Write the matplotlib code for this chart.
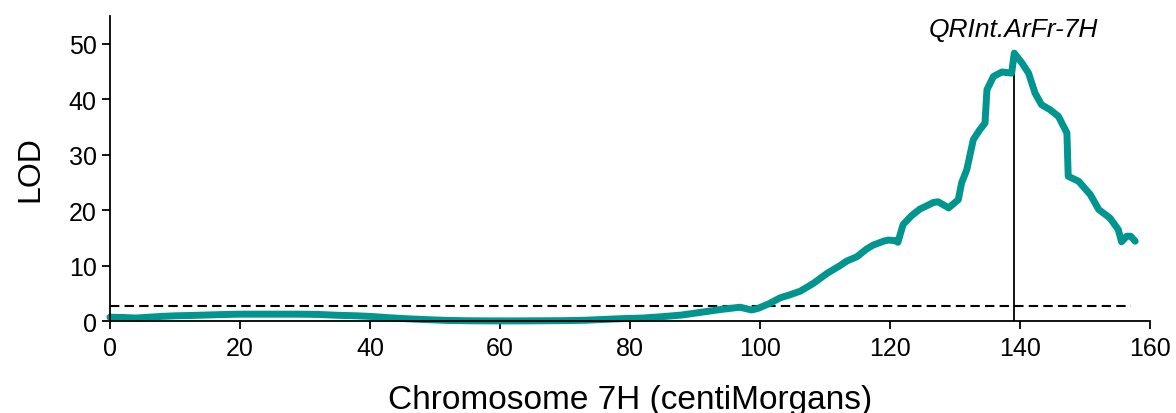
import matplotlib
matplotlib.use("Agg")
import matplotlib.pyplot as plt

plt.rcParams['font.family'] = ['Liberation Sans', 'DejaVu Sans']

# genetic position (cM) and LOD score
position = [0, 2, 4, 6, 8, 10, 12, 15, 18, 20,
            23, 26, 29, 32, 35, 38, 40, 43, 46, 49,
            52, 55, 58, 61, 64, 67, 70, 73, 76, 79,
            82, 85, 88, 91, 94, 96.9, 98.7, 99.7, 101.5, 103.1,
            104.5, 106.2, 108.2, 110.3, 112.3, 113.3, 114.9, 116.4, 117.4, 119.0,
            119.7, 120.8, 121.2, 122.0, 123.3, 124.6, 125.5, 126.7, 127.4, 129.0,
            130.5, 131.0, 131.8, 132.8, 133.8, 134.6, 134.9, 135.9, 137.2, 138.7,
            139.1, 140.3, 141.3, 142.3, 143.3, 144.6, 145.9, 147.2, 147.4, 149.0,
            150.8, 152.1, 153.8, 155.1, 155.6, 156.4, 157.0, 157.7]
lod = [0.7, 0.65, 0.55, 0.7, 0.85, 0.95, 1.0, 1.1, 1.2, 1.25,
       1.25, 1.25, 1.25, 1.2, 1.05, 0.95, 0.85, 0.6, 0.4, 0.25,
       0.12, 0.06, 0.04, 0.03, 0.04, 0.06, 0.08, 0.15, 0.3, 0.45,
       0.55, 0.8, 1.1, 1.6, 2.1, 2.5, 2.0, 2.3, 3.2, 4.2,
       4.7, 5.4, 6.8, 8.6, 10.0, 10.8, 11.6, 13.0, 13.7, 14.4,
       14.6, 14.5, 14.2, 17.4, 19.0, 20.2, 20.7, 21.4, 21.5, 20.4,
       21.9, 24.9, 27.3, 32.7, 34.5, 35.7, 41.7, 44.1, 44.9, 44.7,
       48.3, 46.5, 44.7, 41.1, 39.0, 38.1, 36.9, 33.9, 26.1, 25.2,
       22.8, 20.1, 18.6, 16.5, 14.3, 15.3, 15.3, 14.4]

threshold = 2.7
qtl_pos = 139
qtl_lod = 45
qtl_name = "QRInt.ArFr-7H"

fig = plt.figure(figsize=(11.76, 4.14), dpi=100)
ax = fig.add_axes([0.0935, 0.222, 0.8845, 0.737])

ax.plot([0, 157], [threshold, threshold], color='black', lw=1.5,
        linestyle=(0, (4.5, 2.5)), zorder=1)
ax.plot([qtl_pos, qtl_pos], [0, qtl_lod], color='black', lw=1.3, zorder=1)
ax.plot(position, lod, color='#00958f', lw=5, solid_joinstyle='round',
        solid_capstyle='round', zorder=2, clip_on=False)
ax.text(qtl_pos, 52.7, qtl_name, style='italic', fontsize=19,
        ha='center', va='center')

ax.set_xlim(0, 160)
ax.set_ylim(0, 55)
ax.set_xticks(range(0, 161, 20))
ax.set_yticks(range(0, 51, 10))
for side in ['top', 'right']:
    ax.spines[side].set_visible(False)
for side in ['left', 'bottom']:
    ax.spines[side].set_linewidth(1.3)
ax.tick_params(direction='out', length=6, width=1.3, labelsize=18)
ax.tick_params(axis='x', pad=5)
ax.set_xlabel('Chromosome 7H (centiMorgans)', fontsize=24, labelpad=17)
ax.set_ylabel('LOD', fontsize=23, labelpad=17)

fig.savefig('out.png', dpi=100)
